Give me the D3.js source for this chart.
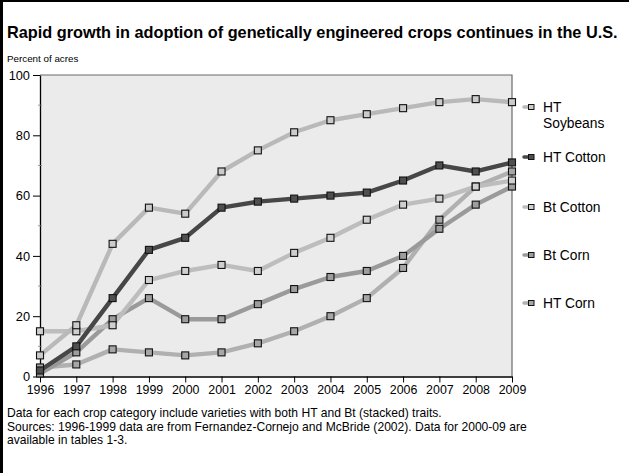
<!DOCTYPE html>
<html>
<head>
<meta charset="utf-8">
<script src="https://cdn.jsdelivr.net/npm/d3@7"></script>
<style>
  html, body { margin: 0; padding: 0; background: #fff; }
  svg { display: block; font-family: "Liberation Sans", Arial, sans-serif; }
</style>
</head>
<body>
<svg id="chart" width="629" height="473"></svg>
<script>
// Years on the x axis
const years = [1996, 1997, 1998, 1999, 2000, 2001, 2002, 2003, 2004, 2005, 2006, 2007, 2008, 2009];

// Percent of acres planted, by crop/trait
const htSoybeans = [7, 17, 44, 56, 54, 68, 75, 81, 85, 87, 89, 91, 92, 91];
const htCotton   = [2, 10, 26, 42, 46, 56, 58, 59, 60, 61, 65, 70, 68, 71];
const btCotton   = [15, 15, 17, 32, 35, 37, 35, 41, 46, 52, 57, 59, 63, 65];
const btCorn     = [1, 8, 19, 26, 19, 19, 24, 29, 33, 35, 40, 49, 57, 63];
const htCorn     = [3, 4, 9, 8, 7, 8, 11, 15, 20, 26, 36, 52, 63, 68];

const seriesNames = ["HT Soybeans", "HT Cotton", "Bt Cotton", "Bt Corn", "HT Corn"];
const yTicks = [0, 20, 40, 60, 80, 100];
const yMinorTicks = [10, 30, 50, 70, 90];

const series = [
  { name: seriesNames[0], values: htSoybeans, line: "#b9b9b9", fill: "#cbcbcb", legendY: 107, lines: ["HT", "Soybeans"] },
  { name: seriesNames[1], values: htCotton,   line: "#474747", fill: "#4f4f4f", legendY: 157, lines: ["HT Cotton"] },
  { name: seriesNames[2], values: btCotton,   line: "#bdbdbd", fill: "#cfcfcf", legendY: 207, lines: ["Bt Cotton"] },
  { name: seriesNames[3], values: btCorn,     line: "#9a9a9a", fill: "#9d9d9d", legendY: 255, lines: ["Bt Corn"] },
  { name: seriesNames[4], values: htCorn,     line: "#b0b0b0", fill: "#a6a6a6", legendY: 303, lines: ["HT Corn"] }
];

const svg = d3.select("#chart");
const plotLeft = 40, plotRight = 512, plotTop = 75, plotBottom = 376.5;

const x = d3.scaleLinear().domain([years[0], years[years.length - 1]]).range([plotLeft, plotRight]);
const y = d3.scaleLinear().domain([0, 100]).range([plotBottom, plotTop]);

// Outer frame: heavy rule on the left and top
svg.append("rect").attr("x", 0).attr("y", 0).attr("width", 629).attr("height", 473).attr("fill", "#fff");
svg.append("line").attr("x1", 1.5).attr("x2", 1.5).attr("y1", 0).attr("y2", 473).attr("stroke", "#000").attr("stroke-width", 3);
svg.append("line").attr("x1", 0).attr("x2", 629).attr("y1", 1).attr("y2", 1).attr("stroke", "#000").attr("stroke-width", 2);

// Title and unit label
svg.append("text").attr("x", 7).attr("y", 38)
  .attr("font-size", 16.3).attr("font-weight", "bold").attr("fill", "#000")
  .text("Rapid growth in adoption of genetically engineered crops continues in the U.S.");
svg.append("text").attr("x", 7).attr("y", 62)
  .attr("font-size", 9.8).attr("fill", "#000").text("Percent of acres");

// Plot background
svg.append("rect").attr("x", plotLeft).attr("y", plotTop)
  .attr("width", plotRight - plotLeft).attr("height", plotBottom - plotTop)
  .attr("fill", "#ebebeb");
svg.append("path")
  .attr("d", `M${plotLeft},${plotTop}H${plotRight}V${plotBottom}`)
  .attr("fill", "none").attr("stroke", "#6a6a6a").attr("stroke-width", 1.2);

// Y axis
const yAxis = svg.append("g").attr("transform", `translate(${plotLeft},0)`)
  .call(d3.axisLeft(y).tickValues(yTicks).tickSize(7).tickSizeOuter(0).tickPadding(3));
yAxis.select(".domain").attr("stroke", "#000").attr("stroke-width", 1.3);
yAxis.selectAll(".tick line").attr("stroke", "#000");
yAxis.selectAll(".tick text").attr("font-size", 12.8).attr("fill", "#000")
  .attr("font-family", "Liberation Sans, Arial, sans-serif");
svg.append("g").selectAll("line").data(yMinorTicks).join("line")
  .attr("x1", plotLeft - 2).attr("x2", plotLeft + 2)
  .attr("y1", d => y(d)).attr("y2", d => y(d))
  .attr("stroke", "#888").attr("stroke-width", 0.8);

// X axis
const xAxis = svg.append("g").attr("transform", `translate(0,${plotBottom})`)
  .call(d3.axisBottom(x).tickValues(years).tickFormat(d3.format("d")).tickSize(6).tickSizeOuter(0).tickPadding(3));
xAxis.select(".domain").attr("stroke", "#000").attr("stroke-width", 1.3);
xAxis.selectAll(".tick line").attr("stroke", "#000");
xAxis.selectAll(".tick text").attr("font-size", 12.4).attr("fill", "#000")
  .attr("font-family", "Liberation Sans, Arial, sans-serif");

// Series lines, drawn back to front
const line = d3.line().x((d, i) => x(years[i])).y(d => y(d));
const drawOrder = [4, 3, 2, 0, 1];
drawOrder.forEach(k => {
  const s = series[k];
  svg.append("path").datum(s.values)
    .attr("d", line).attr("fill", "none")
    .attr("stroke", s.line).attr("stroke-width", 4.4)
    .attr("stroke-linejoin", "round").attr("stroke-linecap", "round");
});
drawOrder.forEach(k => {
  const s = series[k];
  svg.append("g").selectAll("rect").data(s.values).join("rect")
    .attr("x", (d, i) => x(years[i]) - 3.5).attr("y", d => y(d) - 3.5)
    .attr("width", 7).attr("height", 7)
    .attr("fill", s.fill).attr("stroke", "#111").attr("stroke-width", 1.1);
});

// Legend
const legend = svg.append("g");
series.forEach(s => {
  const g = legend.append("g").attr("transform", `translate(0,${s.legendY})`);
  g.append("line").attr("x1", 524).attr("x2", 531).attr("y1", 0).attr("y2", 0)
    .attr("stroke", s.line).attr("stroke-width", 3.5).attr("stroke-linecap", "round");
  g.append("rect").attr("x", 528.5).attr("y", -2.5).attr("width", 5.5).attr("height", 5)
    .attr("fill", s.fill).attr("stroke", "#111").attr("stroke-width", 1);
  s.lines.forEach((t, i) => {
    g.append("text").attr("x", 543).attr("y", 5 + i * 16)
      .attr("font-size", 13.8).attr("fill", "#000").text(t);
  });
});

// Footnotes
const notes = [
  "Data for each crop category include varieties with both HT and Bt (stacked) traits.",
  "Sources: 1996-1999 data are from Fernandez-Cornejo and McBride (2002). Data for 2000-09 are",
  "available in tables 1-3."
];
svg.append("g").selectAll("text").data(notes).join("text")
  .attr("x", 7).attr("y", (d, i) => 417 + i * 13.5)
  .attr("font-size", 12.1).attr("fill", "#000").text(d => d);
</script>
</body>
</html>
